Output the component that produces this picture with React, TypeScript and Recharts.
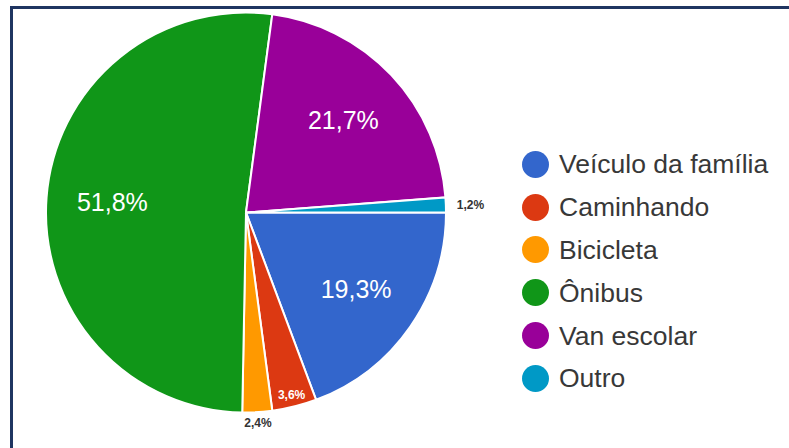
import React from "react";
import { PieChart, Pie, Cell, Legend } from "recharts";

const categories = ["Veículo da família", "Caminhando", "Bicicleta", "Ônibus", "Van escolar", "Outro"];
const values = [19.3, 3.6, 2.4, 51.8, 21.7, 1.2];
const colors = ["#3366cc", "#dc3912", "#ff9900", "#109618", "#990099", "#0099c6"];

const data = categories.map((name, i) => ({ name, value: values[i] }));

const RADIAN = Math.PI / 180;
const fmt = (v: number) => v.toFixed(1).replace(".", ",") + "%";

const renderLabel = (props: any) => {
  const { cx, cy, midAngle, outerRadius, value } = props;
  const cos = Math.cos(-midAngle * RADIAN);
  const sin = Math.sin(-midAngle * RADIAN);
  if (value >= 5) {
    const r = outerRadius * 0.67;
    return (
      <text x={cx + r * cos} y={cy + r * sin} fill="#ffffff" textAnchor="middle" dominantBaseline="central"
        fontFamily="Arial, 'Liberation Sans', sans-serif" fontSize={25}>
        {fmt(value)}
      </text>
    );
  }
  if (value >= 3) {
    const r = outerRadius * 0.94;
    return (
      <text x={cx + r * cos} y={cy + r * sin} fill="#ffffff" textAnchor="middle" dominantBaseline="central"
        fontFamily="Arial, 'Liberation Sans', sans-serif" fontSize={12} fontWeight="bold">
        {fmt(value)}
      </text>
    );
  }
  const r = outerRadius + 11;
  const anchor = cos > 0.5 ? "start" : cos < -0.5 ? "end" : "middle";
  return (
    <text x={cx + r * cos} y={cy + r * sin} fill="#333333" textAnchor={anchor} dominantBaseline="central"
      fontFamily="Arial, 'Liberation Sans', sans-serif" fontSize={12} fontWeight="bold">
      {fmt(value)}
    </text>
  );
};

const LegendContent = () => (
  <div style={{ fontFamily: "Arial, 'Liberation Sans', sans-serif" }}>
    {categories.map((c, i) => (
      <div key={c} style={{ display: "flex", alignItems: "center", height: 42.8 }}>
        <span style={{ display: "inline-block", width: 27, height: 27, borderRadius: "50%", background: colors[i], marginRight: 10 }} />
        <span style={{ fontSize: 26.5, color: "#383838", lineHeight: "28px" }}>{c}</span>
      </div>
    ))}
  </div>
);

export default function App() {
  return (
    <div style={{ position: "absolute", left: 0, top: 0, width: 789, height: 448, background: "#ffffff", overflow: "hidden" }}>
      <div style={{ position: "absolute", left: 10, top: 6, width: 800, height: 460, borderTop: "3px solid #1f3561", borderLeft: "3px solid #1f3561" }} />
      <div style={{ position: "absolute", left: 0, top: 0 }}>
        <PieChart width={789} height={448} margin={{ top: 0, right: 0, bottom: 0, left: 0 }}>
          <Pie
            data={data}
            dataKey="value"
            nameKey="name"
            cx={246}
            cy={212.5}
            outerRadius={200}
            startAngle={0}
            endAngle={-360}
            stroke="#ffffff"
            strokeWidth={2}
            label={renderLabel}
            labelLine={false}
            isAnimationActive={false}
          >
            {data.map((d, i) => (
              <Cell key={d.name} fill={colors[i]} />
            ))}
          </Pie>
          <Legend
            content={<LegendContent />}
            wrapperStyle={{ position: "absolute", left: 522, top: 143, width: 267 }}
          />
        </PieChart>
      </div>
    </div>
  );
}
